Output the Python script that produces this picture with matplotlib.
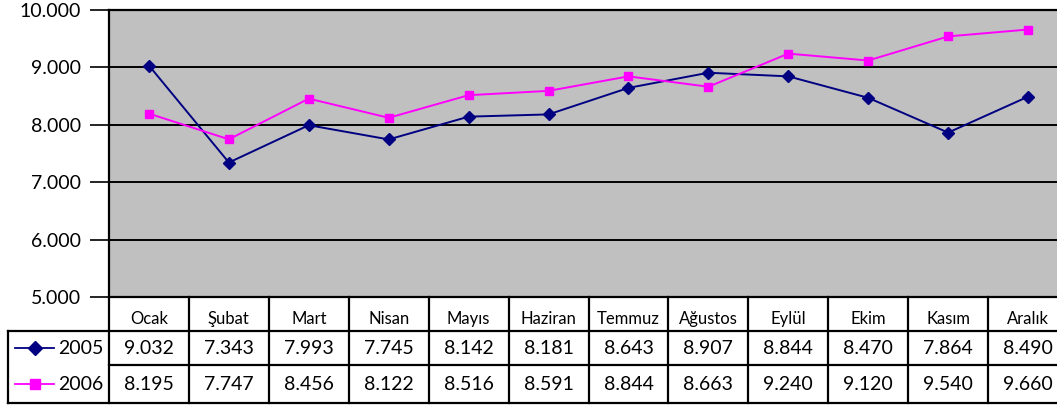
import matplotlib
matplotlib.use("Agg")
import matplotlib.pyplot as plt

plt.rcParams['font.family'] = ['Lato', 'DejaVu Sans']

# Data
months = ["Ocak", "Şubat", "Mart", "Nisan", "Mayıs", "Haziran",
          "Temmuz", "Ağustos", "Eylül", "Ekim", "Kasım", "Aralık"]
sales_2005 = [9032, 7343, 7993, 7745, 8142, 8181, 8643, 8907, 8844, 8470, 7864, 8490]
sales_2006 = [8195, 7747, 8456, 8122, 8516, 8591, 8844, 8663, 9240, 9120, 9540, 9660]
series_names = ["2005", "2006"]
yticks = [5000, 6000, 7000, 8000, 9000, 10000]


def tr_fmt(v):
    return f"{v:,}".replace(",", ".")


W, H = 1057, 405
fig = plt.figure(figsize=(W / 100, H / 100), dpi=100)
fig.patch.set_facecolor("white")

# pixel layout (the original is cut off on the right)
x0, x1 = 109, 1068
ytop, ybot = 10, 297
tbot = 403
colw = (x1 - x0) / 12

ax = fig.add_axes([x0 / W, 1 - ybot / H, (x1 - x0) / W, (ybot - ytop) / H])
ax.set_facecolor("#C0C0C0")
x = range(len(months))
ax.plot(x, sales_2005, color="#000080", lw=1.4, marker="D", ms=6.5,
        markerfacecolor="#000080", markeredgecolor="#000080", zorder=3)
ax.plot(x, sales_2006, color="#FF00FF", lw=1.4, marker="s", ms=6,
        markerfacecolor="#FF00FF", markeredgecolor="#FF00FF", zorder=3)
ax.set_xlim(-0.5, 11.5)
ax.set_ylim(5000, 10000)
ax.set_yticks(yticks)
ax.set_yticklabels([tr_fmt(v) for v in yticks], fontsize=14)
ax.yaxis.grid(True, color="black", lw=1.4)
ax.set_axisbelow(True)
ax.tick_params(axis="y", length=14, width=1.2, pad=6, colors="black")
ax.set_xticks([])
for s in ax.spines.values():
    s.set_color("black")
    s.set_linewidth(1.6)

# data table under the plot
tax = fig.add_axes([x0 / W, 1 - tbot / H, (x1 - x0) / W, (tbot - ybot) / H])
tax.set_xlim(-0.5, 11.5)
tax.set_ylim(tbot - ybot, 0)
tax.axis("off")


def px(p):
    return -0.5 + (p - x0) / colw


lw = 1.6
left = px(8)
r_hdr, r1, r2 = 34, 68, tbot - ybot
for k in range(13):
    tax.plot([k - 0.5, k - 0.5], [0, r2], color="black", lw=lw, clip_on=False)
tax.plot([left, 11.5], [r_hdr, r_hdr], color="black", lw=lw, clip_on=False)
tax.plot([-0.5, 11.5], [r1, r1], color="black", lw=lw, clip_on=False)
tax.plot([left, 11.5], [r2, r2], color="black", lw=lw, clip_on=False)
tax.plot([left, left], [r_hdr, r2], color="black", lw=lw, clip_on=False)

for i, m in enumerate(months):
    tax.text(i, r_hdr / 2 + 5, m, ha="center", va="center", fontsize=12)
    tax.text(i, (r_hdr + r1) / 2, tr_fmt(sales_2005[i]), ha="center", va="center", fontsize=14)
    tax.text(i, (r1 + r2) / 2, tr_fmt(sales_2006[i]), ha="center", va="center", fontsize=14)

# legend keys in the left column
rows = [((r_hdr + r1) / 2, "#000080", "D", 7), ((r1 + r2) / 2, "#FF00FF", "s", 6.5)]
for (yc, col, mk, ms), name in zip(rows, series_names):
    tax.plot([px(15), px(54)], [yc, yc], color=col, lw=1.3, clip_on=False)
    tax.plot([px(35)], [yc], color=col, marker=mk, ms=ms, clip_on=False)
    tax.text(px(58), yc, name, ha="left", va="center", fontsize=14)

fig.savefig("out.png", dpi=100)
